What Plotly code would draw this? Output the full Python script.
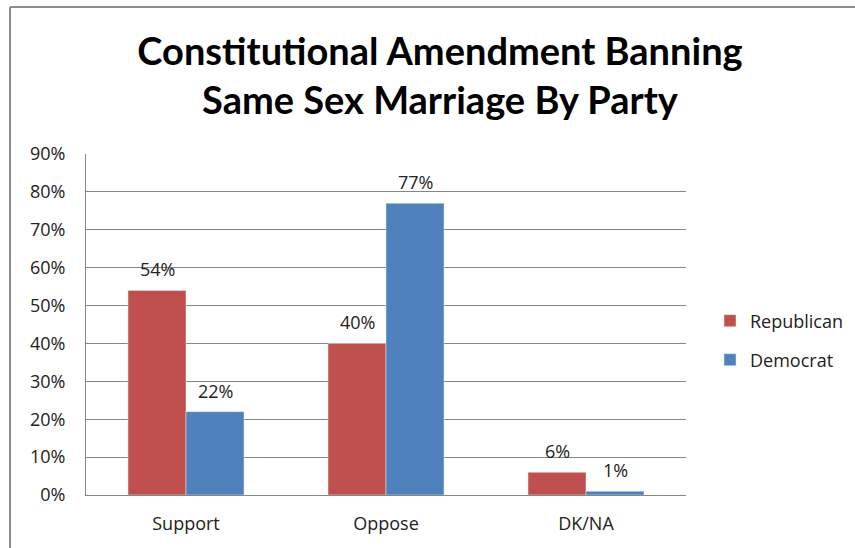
import plotly.graph_objects as go

categories = ["Support", "Oppose", "DK/NA"]
republican = [54, 40, 6]
democrat = [22, 77, 1]
tick_vals = [0, 10, 20, 30, 40, 50, 60, 70, 80, 90]
tick_text = [f"{v}%" for v in tick_vals]

FONT = "'Open Sans', 'Noto Sans', sans-serif"
TFONT = "Lato, 'Open Sans', sans-serif"
RED = "#C0504D"
BLUE = "#4F81BD"
FS = 18

fig = go.Figure()
fig.add_trace(go.Bar(
    x=categories, y=republican, name="Republican", marker_color=RED,
    legend="legend", showlegend=True,
))
fig.add_trace(go.Bar(
    x=categories, y=democrat, name="Democrat", marker_color=BLUE,
    legend="legend2", showlegend=True,
))

# value labels above the bars
for vals, shift in ((republican, -29), (democrat, 29)):
    for c, v in zip(categories, vals):
        fig.add_annotation(x=c, y=v, text=f"{v}%", showarrow=False,
                           xshift=shift, yshift=7, yanchor="bottom",
                           font=dict(family=FONT, size=FS, color="#222"))

W, H = 855, 548
L, R, T, B = 86, 169, 154, 53
pw, ph = W - L - R, H - T - B

def px(x):
    return (x - L) / pw

def py(y):
    return (H - B - y) / ph

fig.update_layout(
    width=W, height=H,
    margin=dict(l=L, r=R, t=T, b=B, autoexpand=False),
    paper_bgcolor="white", plot_bgcolor="white",
    font=dict(family=FONT, size=FS, color="#222"),
    showlegend=True,
    title=dict(
        text="<b>Constitutional Amendment Banning<br>Same Sex Marriage By Party</b>",
        x=px(440), xref="paper", xanchor="center",
        y=1 - 65 / H, yref="container", yanchor="middle",
        font=dict(family=TFONT, size=38, color="black"),
    ),
    barmode="group", bargap=0.42, bargroupgap=0,
    xaxis=dict(showline=True, linecolor="#868686", linewidth=1,
               ticks="", tickfont=dict(size=FS), showgrid=False,
               ticklabelstandoff=12, automargin=False),
    yaxis=dict(range=[0, 90], tickvals=tick_vals, ticktext=tick_text,
               showgrid=True, gridcolor="#868686", gridwidth=1,
               showline=True, linecolor="#868686", linewidth=1,
               ticks="", ticklen=0, tickfont=dict(size=FS), zeroline=False,
               ticklabelstandoff=16, automargin=False),
    legend=dict(x=px(710), y=py(321), xanchor="left", yanchor="middle",
                font=dict(size=FS), bgcolor="rgba(0,0,0,0)"),
    legend2=dict(x=px(710), y=py(360), xanchor="left", yanchor="middle",
                 font=dict(size=FS), bgcolor="rgba(0,0,0,0)"),
    shapes=[
        dict(type="line", xref="paper", yref="paper",
             x0=px(10), x1=px(W + 5), y0=py(7), y1=py(7),
             line=dict(color="#8c8c8c", width=2)),
        dict(type="line", xref="paper", yref="paper",
             x0=px(10), x1=px(10), y0=py(7), y1=py(H + 5),
             line=dict(color="#8c8c8c", width=2)),
    ],
)

fig.write_html("out.html", config={"displayModeBar": False},
               post_script="document.body.style.margin='0px';")
